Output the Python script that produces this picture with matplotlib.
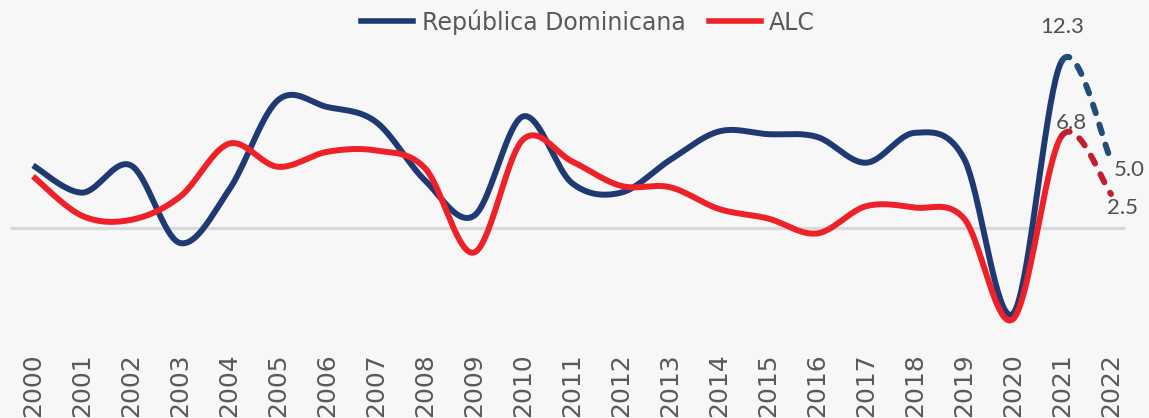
import numpy as np
import matplotlib
matplotlib.use("Agg")
import matplotlib.pyplot as plt
from matplotlib.lines import Line2D

years = list(range(2000, 2023))
rd = [4.6, 2.6, 4.6, -1.1, 2.8, 9.4, 8.9, 7.8, 3.5, 0.9, 8.2, 3.3, 2.6,
      5.0, 7.1, 6.9, 6.7, 4.8, 7.0, 5.1, -6.3, 12.3, 5.0]
alc = [3.8, 0.9, 0.6, 2.3, 6.2, 4.5, 5.6, 5.7, 4.4, -1.8, 6.5, 4.9, 3.1,
       3.0, 1.4, 0.7, -0.4, 1.6, 1.5, 0.7, -6.7, 6.8, 2.5]
labels_rd = {2021: "12.3", 2022: "5.0"}
labels_alc = {2021: "6.8", 2022: "2.5"}

BG = "#F7F7F7"
C_RD = "#1F3A73"
C_RD_D = "#1F4E79"
C_ALC = "#EE2128"
C_ALC_D = "#C0202E"
TXT = "#595959"


def smooth(x, y, n=40):
    """Excel-like smoothed line (Catmull-Rom Bezier); returns list of segments."""
    x = np.asarray(x, float)
    y = np.asarray(y, float)
    px = np.concatenate([[x[0]], x, [x[-1]]])
    py = np.concatenate([[y[0]], y, [y[-1]]])
    segs = []
    t = np.linspace(0, 1, n)[:, None]
    for i in range(len(x) - 1):
        p0 = np.array([px[i], py[i]])
        p1 = np.array([px[i + 1], py[i + 1]])
        p2 = np.array([px[i + 2], py[i + 2]])
        p3 = np.array([px[i + 3], py[i + 3]])
        c1 = p1 + (p2 - p0) / 6
        c2 = p2 - (p3 - p1) / 6
        b = ((1 - t) ** 3) * p1 + 3 * ((1 - t) ** 2) * t * c1 + 3 * (1 - t) * t ** 2 * c2 + t ** 3 * p2
        segs.append(b)
    return segs


W, H = 1149, 418
fig = plt.figure(figsize=(W / 100, H / 100), dpi=100, facecolor=BG)
ax_bottom_px = 345
ax = fig.add_axes([0, (H - ax_bottom_px) / H, 1, ax_bottom_px / H])
ax.set_facecolor(BG)

x0_px, dx_px = 33, 49
ax.set_xlim(2000 - x0_px / dx_px, 2000 + (W - x0_px) / dx_px)
zero_px, ppu = 228, 13.6
ax.set_ylim((zero_px - ax_bottom_px) / ppu, zero_px / ppu)

ax.hlines(0, 1999.53, 2022.29, color="#D9D9D9", lw=2.3, zorder=1)

lw = 4.3
for vals, c, cd, z in [(rd, C_RD, C_RD_D, 3), (alc, C_ALC, C_ALC_D, 4)]:
    segs = smooth(years, vals)
    solid = np.vstack(segs[:-1])
    ax.plot(solid[:, 0], solid[:, 1], color=c, lw=lw, solid_capstyle="butt",
            solid_joinstyle="round", zorder=z)
    d = segs[-1]
    ax.plot(d[:, 0], d[:, 1], color=cd, lw=lw, dashes=(1.5, 2.0),
            dash_capstyle="round", zorder=z)

lab_font = dict(family=["Lato", "DejaVu Sans"], fontsize=16, color="#505050",
                fontweight="normal")
i21 = years.index(2021)
i22 = years.index(2022)
ax.annotate(labels_rd[2021], (2021, rd[i21]), xytext=(0, 24), textcoords="offset points",
            ha="center", va="center", **lab_font)
ax.annotate(labels_rd[2022], (2022, rd[i22]), xytext=(13, -7), textcoords="offset points",
            ha="center", va="center", **lab_font)
ax.annotate(labels_alc[2021], (2021, alc[i21]), xytext=(7, 9), textcoords="offset points",
            ha="center", va="center", **lab_font)
ax.annotate(labels_alc[2022], (2022, alc[i22]), xytext=(8, -10), textcoords="offset points",
            ha="center", va="center", **lab_font)

ax.set_xticks(years)
ax.set_xticklabels([str(y) for y in years], rotation=90, fontsize=18,
                   color=TXT, family="DejaVu Sans")
ax.tick_params(axis="x", length=0, pad=6)
ax.set_yticks([])
for s in ax.spines.values():
    s.set_visible(False)

handles = [Line2D([], [], color=C_RD, lw=4), Line2D([], [], color=C_ALC, lw=4)]
leg = fig.legend(handles, ["República Dominicana", "ALC"], loc="center",
                 bbox_to_anchor=(0.512, 1 - 22 / H), ncol=2, frameon=False,
                 fontsize=17, handlelength=2.2, handletextpad=0.35,
                 columnspacing=1.0, borderpad=0, borderaxespad=0)
for t in leg.get_texts():
    t.set_color(TXT)

fig.savefig("out.png", dpi=100, facecolor=BG)
